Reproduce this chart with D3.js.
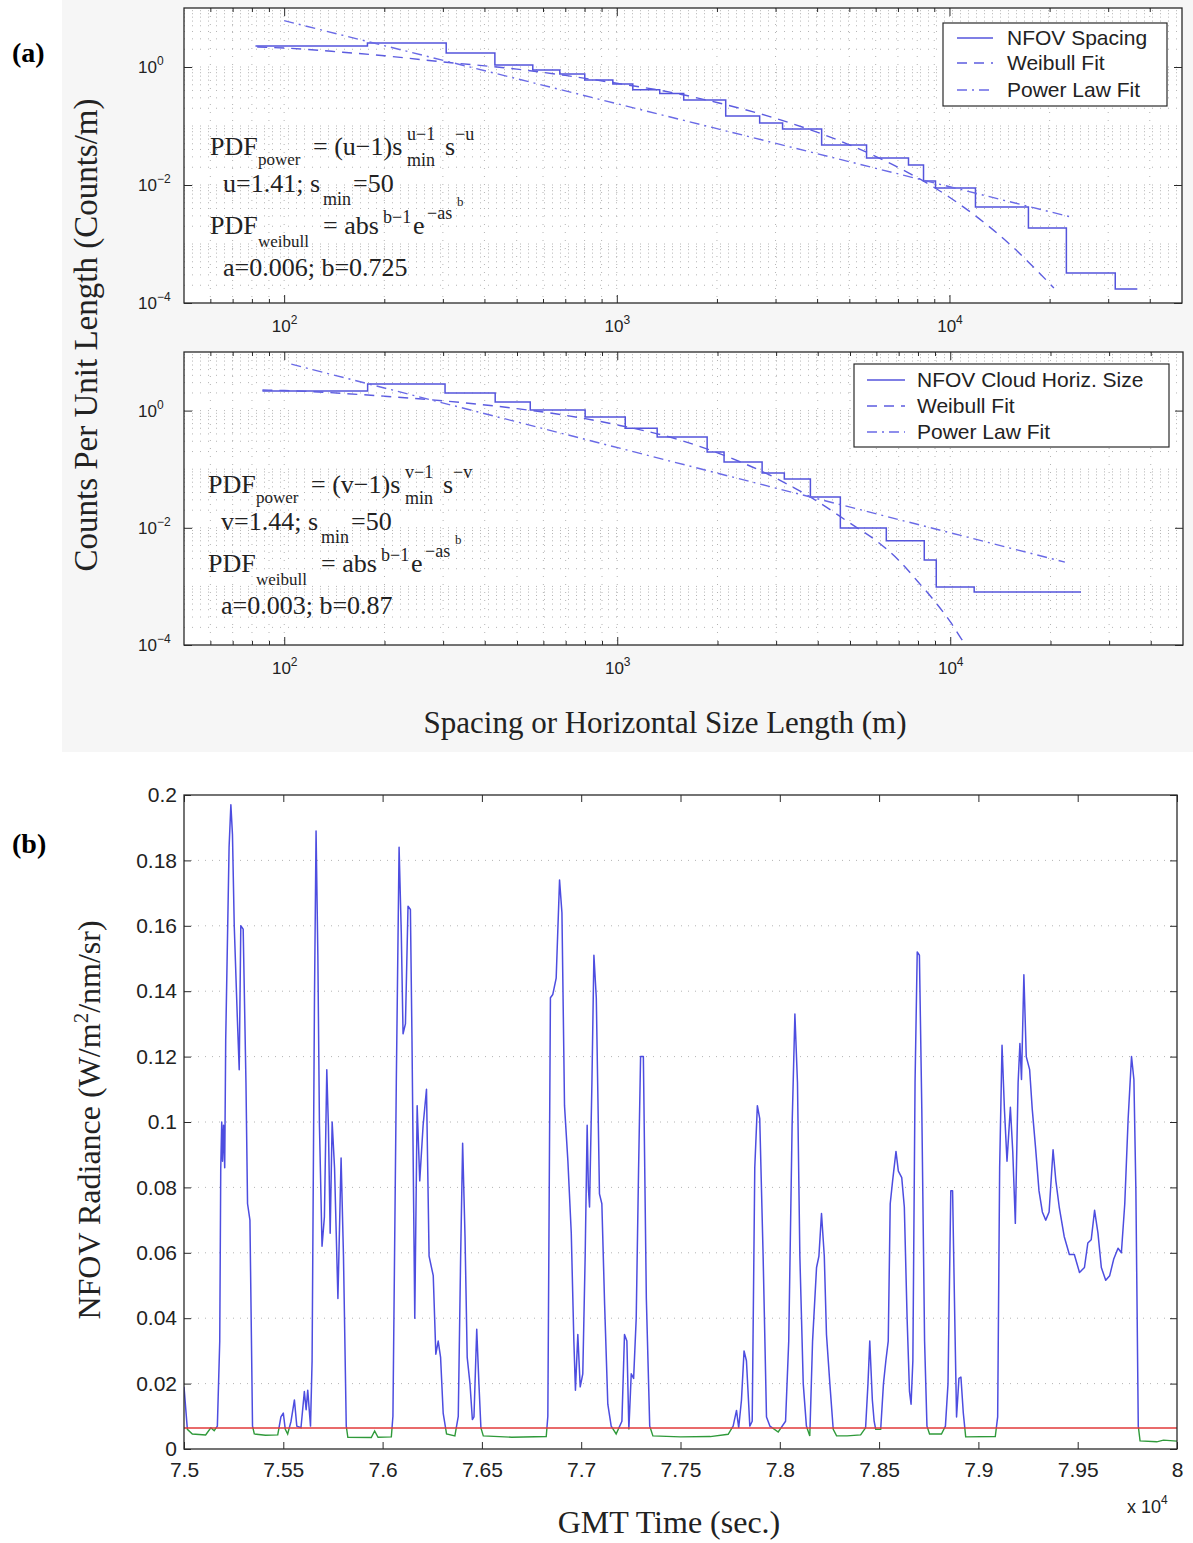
<!DOCTYPE html>
<html><head><meta charset="utf-8">
<script src="https://cdn.jsdelivr.net/npm/d3@7"></script>
<style>body{margin:0;background:#fff;}svg{display:block;}</style>
</head><body>
<svg id="fig" width="1193" height="1543"></svg>
<script>
// ================= DATA =================
// (a) top: NFOV spacing histogram (bin edges in m, counts per unit length)
const spacingEdges  = [82,178,307,430,559,674,801,973,1117,1346,1589,2125,2688,3150,4128,5633,7530,8356,9078,11970,17270,22460,31500,36700];
const spacingCounts = [2.27,2.55,1.73,1.08,0.89,0.76,0.60,0.515,0.41,0.355,0.276,0.148,0.112,0.089,0.0477,0.0287,0.0218,0.0117,0.0089,0.00424,0.00187,0.000322,0.000173];
const spacingWeibull = [[83,2.18],[100,2.1],[150,1.78],[200,1.55],[300,1.22],[500,0.92],[700,0.72],[1000,0.53],[1500,0.36],[2000,0.25],[3000,0.135],[5000,0.048],[7000,0.02],[10000,0.0062],[15000,0.00105],[20600,0.00018]];
const spacingPower = [[100,6.1],[23000,0.0029]];
// (a) bottom: NFOV cloud horizontal size histogram
const sizeEdges  = [86,178,304,430,548,801,1057,1318,1862,2093,2723,3175,3802,4677,6427,8356,9078,11800,24700];
const sizeCounts = [2.16,2.85,2.0,1.40,1.02,0.78,0.50,0.354,0.196,0.133,0.086,0.068,0.0336,0.0099,0.006,0.00282,0.00098,0.0008];
const sizeWeibull = [[86,2.25],[100,2.2],[200,1.76],[300,1.47],[500,1.08],[700,0.83],[1000,0.57],[1500,0.33],[2000,0.19],[3000,0.07],[4000,0.028],[5000,0.012],[6000,0.006],[7000,0.0028],[8000,0.0012],[9000,0.00055],[10000,0.00025],[11000,0.00011],[11500,0.00008]];
const sizePower = [[105,6.2],[22100,0.0026]];
const logXDomain = [50,50000];
const logYDomain = [1e-4,10];
const logXTicks = [100,1000,10000];
const logYTicks = [1e-4,1e-2,1];

// (b) NFOV radiance time series
const radTime = [75000,75017,75042,75109,75135,75152,75168,75180,75185,75190,75194,75199,75205,75210,75227,75236,75244,75253,75269,75278,75286,75298,75312,75320,75332,75345,75354,75410,75472,75488,75500,75510,75522,75539,75556,75568,75589,75606,75615,75623,75637,75645,75657,75665,75674,75682,75695,75707,75719,75727,75736,75746,75758,75775,75791,75803,75817,75825,75943,75960,75977,76044,76052,76069,76083,76094,76103,76115,76128,76140,76148,76162,76174,76187,76204,76221,76234,76255,76268,76280,76292,76305,76322,76364,76381,76393,76403,76415,76426,76440,76452,76460,76474,76485,76495,76507,76650,76824,76832,76845,76857,76874,76891,76903,76916,76933,76950,76963,76971,76983,76995,77008,77020,77030,77036,77042,77054,77064,77076,77092,77104,77118,77134,77151,77176,77205,77218,77230,77240,77252,77264,77277,77289,77299,77313,77328,77345,77361,77500,77650,77740,77765,77782,77793,77807,77820,77832,77849,77861,77874,77887,77899,77916,77933,77950,77992,78029,78045,78062,78076,78089,78101,78118,78134,78151,78165,78185,78197,78210,78224,78235,78252,78269,78286,78339,78407,78432,78444,78453,78466,78475,78483,78508,78522,78534,78546,78556,78568,78585,78597,78614,78627,78641,78653,78661,78670,78681,78692,78703,78715,78729,78741,78754,78814,78834,78847,78861,78870,78881,78890,78902,78912,78924,78936,79085,79097,79107,79119,79131,79144,79161,79173,79186,79200,79209,79217,79229,79241,79258,79271,79288,79305,79322,79339,79356,79376,79390,79407,79432,79458,79483,79509,79534,79551,79568,79585,79602,79619,79641,79661,79681,79703,79720,79737,79754,79771,79783,79793,79805,79814,79898,79932,80000];
const radValue = [0.019,0.006,0.0046,0.0043,0.0065,0.0056,0.007,0.033,0.0856,0.1,0.088,0.099,0.086,0.125,0.184,0.197,0.188,0.16,0.131,0.116,0.16,0.159,0.112,0.075,0.07,0.007,0.0046,0.0042,0.0043,0.0098,0.011,0.006,0.0046,0.0085,0.015,0.007,0.0065,0.0176,0.012,0.018,0.007,0.027,0.138,0.189,0.151,0.099,0.062,0.071,0.116,0.099,0.066,0.1,0.086,0.046,0.089,0.059,0.007,0.0036,0.0035,0.0055,0.0036,0.0037,0.01,0.112,0.184,0.158,0.127,0.13,0.166,0.165,0.125,0.04,0.105,0.082,0.099,0.11,0.059,0.053,0.029,0.033,0.028,0.011,0.0046,0.004,0.01,0.059,0.0935,0.065,0.028,0.02,0.009,0.0098,0.0366,0.02,0.0065,0.004,0.0036,0.0038,0.01,0.138,0.139,0.144,0.174,0.164,0.105,0.088,0.066,0.033,0.018,0.035,0.019,0.023,0.059,0.099,0.08,0.074,0.112,0.151,0.138,0.078,0.075,0.044,0.0137,0.007,0.0046,0.0085,0.035,0.033,0.006,0.023,0.0216,0.04,0.086,0.12,0.12,0.046,0.007,0.004,0.0037,0.0038,0.0045,0.007,0.0118,0.0065,0.015,0.03,0.027,0.007,0.0085,0.086,0.105,0.101,0.059,0.0098,0.007,0.0052,0.0085,0.033,0.099,0.133,0.112,0.059,0.02,0.007,0.004,0.033,0.0555,0.059,0.072,0.059,0.035,0.02,0.006,0.004,0.004,0.0043,0.0065,0.02,0.033,0.015,0.0085,0.006,0.006,0.02,0.027,0.033,0.075,0.082,0.091,0.085,0.083,0.074,0.04,0.0176,0.0137,0.027,0.112,0.152,0.151,0.104,0.033,0.007,0.0046,0.0046,0.007,0.02,0.079,0.079,0.04,0.0098,0.0216,0.022,0.011,0.0037,0.0038,0.0098,0.086,0.1235,0.104,0.088,0.1045,0.091,0.069,0.112,0.124,0.113,0.145,0.12,0.116,0.104,0.092,0.079,0.0725,0.07,0.0725,0.0915,0.082,0.074,0.065,0.0595,0.0595,0.054,0.0555,0.063,0.064,0.073,0.066,0.0555,0.0516,0.053,0.058,0.0614,0.060,0.075,0.101,0.12,0.113,0.079,0.007,0.0025,0.0022,0.0027,0.0024];
const radThreshold = 0.0064;
const timeTicks = [75000,75500,76000,76500,77000,77500,78000,78500,79000,79500,80000];
const timeTickLabels = ["7.5","7.55","7.6","7.65","7.7","7.75","7.8","7.85","7.9","7.95","8"];
const radTicks = [0,0.02,0.04,0.06,0.08,0.1,0.12,0.14,0.16,0.18,0.2];
const radTickLabels = ["0","0.02","0.04","0.06","0.08","0.1","0.12","0.14","0.16","0.18","0.2"];

// ================= DRAW =================
const svg = d3.select('#fig');
const SANS = "'Liberation Sans', Arial, Helvetica, sans-serif";
const SERIF = "'Liberation Serif', 'Times New Roman', Times, serif";
const BLUE = '#5454dc';
const AXC = '#2a2a2a';
const GRID = '#b4b4b4';

svg.append('rect').attr('x',62).attr('y',0).attr('width',1131).attr('height',752).attr('fill','#f6f6f6');

function addSup(sel, base, sup, supSize, supDy) {
  sel.append('tspan').text(base);
  sel.append('tspan').attr('dy', supDy).attr('font-size', supSize).text(sup);
}
function expStr(d){ const e = Math.round(Math.log10(d)); return e < 0 ? '\u2212' + (-e) : String(e); }

function logPanel(p) {
  const L = p.left, T = p.top, W = p.width, H = p.height;
  const x = d3.scaleLog().domain(logXDomain).range([L, L + W]);
  const y = d3.scaleLog().domain(logYDomain).range([T + H, T]);
  const g = svg.append('g');
  g.append('rect').attr('x', L).attr('y', T).attr('width', W).attr('height', H).attr('fill', '#fff');
  const gx = [], gy = [];
  for (let e = 1; e <= 4; e++) for (let m = 1; m <= 9; m++) { const v = m * Math.pow(10, e); if (v > 50.5 && v < 49500) gx.push(v); }
  for (let e = -4; e <= 0; e++) for (let m = 1; m <= 9; m++) { const v = m * Math.pow(10, e); if (v > 1.01e-4 && v < 9.9) gy.push(v); }
  g.selectAll('line.gx').data(gx).join('line').attr('class','gx')
    .attr('x1', d => x(d)).attr('x2', d => x(d)).attr('y1', T).attr('y2', T + H)
    .attr('stroke', GRID).attr('stroke-width', 1).attr('stroke-dasharray', '1,7');
  g.selectAll('line.gy').data(gy).join('line').attr('class','gy')
    .attr('y1', d => y(d)).attr('y2', d => y(d)).attr('x1', L).attr('x2', L + W)
    .attr('stroke', GRID).attr('stroke-width', 1).attr('stroke-dasharray', '1,7');

  const cid = 'clip' + p.id;
  svg.append('clipPath').attr('id', cid).append('rect').attr('x', L).attr('y', T).attr('width', W).attr('height', H);
  const dg = g.append('g').attr('clip-path', `url(#${cid})`);
  const stepPts = p.edges.map((e, i) => [e, p.counts[Math.min(i, p.counts.length - 1)]]);
  dg.append('path').attr('d', d3.line().x(d => x(d[0])).y(d => y(d[1])).curve(d3.curveStepAfter)(stepPts))
    .attr('fill', 'none').attr('stroke', BLUE).attr('stroke-width', 1.5);
  dg.append('path').attr('d', d3.line().x(d => x(d[0])).y(d => y(d[1])).curve(d3.curveMonotoneX)(p.weibull))
    .attr('fill', 'none').attr('stroke', '#5c5ce0').attr('stroke-width', 1.4).attr('stroke-dasharray', '10,7');
  dg.append('path').attr('d', d3.line().x(d => x(d[0])).y(d => y(d[1]))(p.power))
    .attr('fill', 'none').attr('stroke', '#6a6ae6').attr('stroke-width', 1.4).attr('stroke-dasharray', '10,5,2,5');

  const minorX = gx.filter(v => !logXTicks.includes(v));
  const ax = (axis, tx, ty) => g.append('g').attr('transform', `translate(${tx},${ty})`).call(axis)
      .call(s => s.select('.domain').remove()).attr('color', AXC).attr('font-family', SANS).attr('font-size', 17);
  const xb = ax(d3.axisBottom(x).tickValues(logXTicks).tickSize(-8).tickSizeOuter(0).tickPadding(17).tickFormat(() => ''), 0, T + H);
  xb.selectAll('.tick text').attr('fill', '#222').each(function(d){ addSup(d3.select(this), '10', expStr(d), 12, -8); });
  ax(d3.axisBottom(x).tickValues(minorX).tickSize(-4).tickSizeOuter(0).tickFormat(() => ''), 0, T + H);
  ax(d3.axisTop(x).tickValues(logXTicks).tickSize(-8).tickSizeOuter(0).tickFormat(() => ''), 0, T);
  ax(d3.axisTop(x).tickValues(minorX).tickSize(-4).tickSizeOuter(0).tickFormat(() => ''), 0, T);
  const yl = ax(d3.axisLeft(y).tickValues(logYTicks).tickSize(-8).tickSizeOuter(0).tickFormat(() => ''), L, 0);
  yl.selectAll('.tick text').attr('fill', '#222').attr('text-anchor', 'start').attr('x', -46)
    .each(function(d){ addSup(d3.select(this), '10', expStr(d), 12, -8); });
  ax(d3.axisRight(y).tickValues(logYTicks).tickSize(-8).tickSizeOuter(0).tickFormat(() => ''), L + W, 0);
  g.append('rect').attr('x', L).attr('y', T).attr('width', W).attr('height', H)
    .attr('fill', 'none').attr('stroke', AXC).attr('stroke-width', 1.3);

  // legend
  const lb = p.legend;
  g.append('rect').attr('x', lb.x).attr('y', lb.y).attr('width', lb.w).attr('height', lb.h)
    .attr('fill', '#fff').attr('stroke', AXC).attr('stroke-width', 1.2);
  const dashes = [null, '10,7', '10,5,2,5'];
  lb.labels.forEach((t, i) => {
    const cy = lb.rows[i];
    g.append('line').attr('x1', lb.s1).attr('x2', lb.s2).attr('y1', cy).attr('y2', cy)
      .attr('stroke', i === 0 ? BLUE : (i === 1 ? '#5c5ce0' : '#6a6ae6')).attr('stroke-width', 1.4)
      .attr('stroke-dasharray', dashes[i]);
    g.append('text').attr('x', lb.tx).attr('y', cy + 7).attr('font-family', SANS).attr('font-size', 21)
      .attr('fill', '#222').text(t);
  });

  // formula annotation
  const f = p.formula, v = f.sym;
  const lines = [
    [['PDF',0,0,26],['power',48,10,17],['= (' + v + '\u22121)s',103,0,26],[v + '\u22121',197,-15,18],['min',197,11,18],['s',235,0,26],['\u2212' + v,245,-15,18]],
    [[v + '=' + f.exp + '; s',13,0,26],['min',113,13,18],['=50',143,0,26]],
    [['PDF',0,0,26],['weibull',48,13,17],['= abs',113,0,26],['b\u22121',173,-11,18],['e',203,0,26],['\u2212as',217,-15,18],['b',247,-28,13]],
    [['a=' + f.a + '; b=' + f.b,13,0,26]]
  ];
  const lineDy = [0, 37, 79, 121];
  lines.forEach((ln, li) => ln.forEach(pc => {
    g.append('text').attr('x', f.x + pc[1]).attr('y', f.y + lineDy[li] + pc[2])
      .attr('font-family', SERIF).attr('font-size', pc[3]).attr('fill', '#222').text(pc[0]);
  }));
}

logPanel({ id: 'a1', left: 184, top: 8, width: 998, height: 295,
  edges: spacingEdges, counts: spacingCounts, weibull: spacingWeibull, power: spacingPower,
  legend: { x: 943, y: 23, w: 224, h: 83, rows: [38, 63, 90], s1: 957, s2: 993, tx: 1007,
    labels: ['NFOV Spacing', 'Weibull Fit', 'Power Law Fit'] },
  formula: { x: 210, y: 155, sym: 'u', exp: '1.41', a: '0.006', b: '0.725' } });

logPanel({ id: 'a2', left: 184, top: 352, width: 999, height: 293,
  edges: sizeEdges, counts: sizeCounts, weibull: sizeWeibull, power: sizePower,
  legend: { x: 854, y: 364, w: 315, h: 83, rows: [380, 406, 432], s1: 867, s2: 905, tx: 917,
    labels: ['NFOV Cloud Horiz. Size', 'Weibull Fit', 'Power Law Fit'] },
  formula: { x: 208, y: 493, sym: 'v', exp: '1.44', a: '0.003', b: '0.87' } });

// titles (a)
svg.append('text').attr('transform', 'translate(97,335) rotate(-90)').attr('text-anchor', 'middle')
  .attr('font-family', SERIF).attr('font-size', 33).attr('fill', '#222').text('Counts Per Unit Length (Counts/m)');
svg.append('text').attr('x', 665).attr('y', 733).attr('text-anchor', 'middle')
  .attr('font-family', SERIF).attr('font-size', 31).attr('fill', '#222').text('Spacing or Horizontal Size Length (m)');
svg.append('text').attr('x', 12).attr('y', 62).attr('font-family', SERIF).attr('font-weight', 'bold')
  .attr('font-size', 28).attr('fill', '#000').text('(a)');
svg.append('text').attr('x', 12).attr('y', 853).attr('font-family', SERIF).attr('font-weight', 'bold')
  .attr('font-size', 28).attr('fill', '#000').text('(b)');

// ---------- (b) ----------
(function(){
  const L = 184, R = 1177, T = 795, B = 1449;
  const x = d3.scaleLinear().domain([75000, 80000]).range([L, R]);
  const y = d3.scaleLinear().domain([0, 0.2]).range([B, T]);
  const g = svg.append('g');
  g.selectAll('line.hg').data(radTicks.slice(1, -1)).join('line').attr('class','hg')
    .attr('x1', L).attr('x2', R).attr('y1', d => y(d)).attr('y2', d => y(d))
    .attr('stroke', GRID).attr('stroke-width', 1).attr('stroke-dasharray', '1,6');
  const pts = radTime.map((t, i) => [t, radValue[i]]);
  const ln = d3.line().x(d => x(d[0])).y(d => y(d[1]));
  const ty = y(radThreshold);
  svg.append('clipPath').attr('id', 'clipUp').append('rect').attr('x', L).attr('y', T).attr('width', R - L).attr('height', ty - T);
  svg.append('clipPath').attr('id', 'clipDn').append('rect').attr('x', L).attr('y', ty).attr('width', R - L).attr('height', B - ty);
  g.append('path').attr('d', ln(pts)).attr('clip-path', 'url(#clipDn)')
    .attr('fill', 'none').attr('stroke', '#2f9a3a').attr('stroke-width', 1.4);
  g.append('path').attr('d', ln(pts)).attr('clip-path', 'url(#clipUp)')
    .attr('fill', 'none').attr('stroke', '#4d4de0').attr('stroke-width', 1.5).attr('stroke-linejoin', 'round');
  g.append('line').attr('x1', L).attr('x2', R).attr('y1', ty).attr('y2', ty)
    .attr('stroke', '#e23a3a').attr('stroke-width', 1.4);

  const ax = (axis, tx, tyy) => g.append('g').attr('transform', `translate(${tx},${tyy})`).call(axis)
      .call(s => s.select('.domain').remove()).attr('color', AXC).attr('font-family', SANS).attr('font-size', 21);
  ax(d3.axisBottom(x).tickValues(timeTicks).tickSize(-7).tickSizeOuter(0).tickPadding(13)
      .tickFormat((d, i) => timeTickLabels[i]), 0, B).selectAll('text').attr('fill', '#222');
  ax(d3.axisTop(x).tickValues(timeTicks).tickSize(-7).tickSizeOuter(0).tickFormat(() => ''), 0, T);
  ax(d3.axisLeft(y).tickValues(radTicks).tickSize(-7).tickSizeOuter(0).tickPadding(7)
      .tickFormat((d, i) => radTickLabels[i]), L, 0).selectAll('text').attr('fill', '#222');
  ax(d3.axisRight(y).tickValues(radTicks).tickSize(-7).tickSizeOuter(0).tickFormat(() => ''), R, 0);
  g.append('rect').attr('x', L).attr('y', T).attr('width', R - L).attr('height', B - T)
    .attr('fill', 'none').attr('stroke', AXC).attr('stroke-width', 1.3);

  const xm = g.append('text').attr('x', 1127).attr('y', 1513).attr('font-family', SANS).attr('font-size', 18).attr('fill', '#222');
  addSup(xm, 'x 10', '4', 12, -9);

  svg.append('text').attr('x', 669).attr('y', 1533).attr('text-anchor', 'middle')
    .attr('font-family', SERIF).attr('font-size', 32).attr('fill', '#222').text('GMT Time (sec.)');
  const yt = svg.append('text').attr('transform', 'translate(100,1120) rotate(-90)').attr('text-anchor', 'middle')
    .attr('font-family', SERIF).attr('font-size', 32).attr('fill', '#222');
  yt.append('tspan').text('NFOV Radiance (W/m');
  yt.append('tspan').attr('dy', -12).attr('font-size', 21).text('2');
  yt.append('tspan').attr('dy', 12).text('/nm/sr)');
})();
</script>
</body></html>
